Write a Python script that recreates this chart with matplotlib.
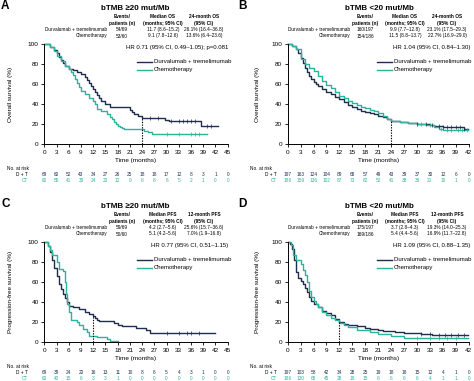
import numpy as np
import matplotlib.pyplot as plt
from matplotlib.transforms import blended_transform_factory

plt.rcParams['font.family'] = ['Liberation Sans', 'DejaVu Sans']

NAVY = '#1f2d4e'
TEAL = '#2bb39c'

# ---- Panel A: OS, bTMB >=20 ----
a_dt_t = [0, 1.5, 2.5, 3, 3.5, 4, 4.5, 5, 6, 7, 8, 9, 10, 10.5, 11, 11.5, 12, 12.5, 13, 13.5,
          14, 15, 16, 21, 21.5, 22, 23, 24, 29.5, 30.5, 38.5, 42.5]
a_dt_s = [100, 97, 94, 91, 87, 84, 81, 78, 75, 74, 72, 70, 67, 64, 61, 58, 55, 52, 49, 46,
          43, 40, 37, 34, 32, 30, 28, 26, 24.5, 23, 18.5, 18.5]
a_ct_t = [0, 1.5, 2.5, 3, 4, 5, 6, 6.5, 7, 7.5, 8, 8.5, 9, 10, 11, 12, 12.5, 13, 14, 15.5,
          16, 16.5, 17, 17.5, 18, 18.5, 19, 19.5, 24.5, 25.5, 26.5, 40]
a_ct_s = [100, 97, 93, 88, 83, 78, 75, 72, 69, 65, 61, 57, 53, 50, 46, 43, 40, 35, 33, 30,
          27, 25, 22, 20, 18.5, 17, 16, 15, 13, 12, 10, 10]
a_dt_cens = [26, 28, 31, 33, 34, 35, 36, 37, 40, 41]
a_ct_cens = [30, 33, 36, 37, 38]
a_risk_dt = [69, 60, 52, 43, 34, 27, 26, 25, 18, 18, 17, 12, 8, 3, 1, 0]
a_risk_ct = [60, 55, 41, 30, 24, 20, 12, 9, 8, 8, 6, 5, 2, 1, 0, 0]
a_rows = [['54/69', '11.7 (8.6–15.2)', '26.1% (16.4–36.8)'],
          ['53/60', '9.1 (7.8–12.6)', '13.6% (6.4–23.6)']]
a_hr = 'HR 0.71 (95% CI, 0.49–1.05); p=0.081'

# ---- Panel B: OS, bTMB <20 ----
b_dt_t = [0, 1, 2, 2.5, 3, 3.5, 4, 4.5, 5, 5.5, 6, 6.5, 7, 8, 9, 10, 11, 12, 13, 14,
          15, 16, 17, 18, 19, 20, 21, 22, 23, 24, 26, 28, 30, 32, 33, 34, 36, 39, 41, 41.8]
b_dt_s = [100, 98, 95, 91, 86, 81, 76, 72, 68, 65, 62, 60, 58, 55, 52, 50, 47, 45, 42, 39,
          37, 35, 33.5, 32, 31, 30, 28, 27, 25, 23.5, 22, 21.5, 20.5, 20, 19, 18, 17.5, 17, 15.5, 15.5]
b_ct_t = [0, 1, 2, 3, 4, 5, 6, 7, 8, 9, 10, 11, 12, 13, 14, 15, 16, 17, 18, 19,
          20, 21, 22, 23, 24, 26, 28, 30, 32, 34, 35, 36, 40, 41.8]
b_ct_s = [100, 98, 95, 85, 80, 76, 73, 68, 63, 59, 56, 52, 48, 46, 43, 41, 39, 37.5, 36, 34,
          33, 31, 28, 25.5, 23.5, 22, 21, 20.5, 19.5, 17.5, 15, 14.5, 14.5, 14.5]
b_dt_cens = [30, 32, 33.5, 35, 36, 37, 38, 39, 40, 41]
b_ct_cens = [31, 33, 35.5, 37, 38, 39.5, 40.5, 41.5]
b_risk_dt = [197, 163, 124, 104, 89, 68, 57, 49, 43, 39, 37, 30, 12, 6, 0]
b_risk_ct = [186, 159, 136, 102, 87, 73, 62, 52, 41, 38, 36, 21, 10, 1, 0]
b_rows = [['160/197', '9.9 (7.7–12.8)', '23.1% (17.5–29.3)'],
          ['154/186', '11.5 (8.8–13.7)', '22.7% (16.9–29.0)']]
b_hr = 'HR 1.04 (95% CI, 0.84–1.30)'

# ---- Panel C: PFS, bTMB >=20 ----
c_dt_t = [0, 1, 1.5, 2, 2.5, 3, 3.5, 4, 4.5, 5, 5.5, 6, 7, 8.5, 10, 11, 12, 12.5, 13, 13.5,
          17, 18, 19, 22.5, 25, 26, 42]
c_dt_s = [100, 96, 90, 82, 74, 66, 58, 53, 48, 44, 40, 36, 35, 33, 30, 28, 26, 24, 22, 21,
          19, 17.5, 16, 14.5, 12.5, 9.5, 9.5]
c_ct_t = [0, 1, 1.5, 2, 3, 3.5, 4.5, 5, 5.3, 5.6, 6, 6.5, 8, 8.5, 9.5, 10.5, 11, 13, 15.5, 16, 18.2]
c_ct_s = [100, 96, 92, 87, 80, 73, 71, 60, 48, 38, 30, 22, 20, 17, 13.5, 10, 6.5, 5, 3.3, 1.7, 1.7]
c_dt_cens = [30, 33, 35, 36, 38]
c_ct_cens = []
c_risk_dt = [69, 39, 24, 20, 16, 13, 11, 10, 8, 6, 5, 4, 3, 1, 0, 0]
c_risk_ct = [60, 40, 15, 6, 3, 3, 1, 0, 0, 0, 0, 0, 0, 0, 0, 0]
c_rows = [['59/69', '4.2 (2.7–5.6)', '25.6% (15.7–36.6)'],
          ['50/60', '5.1 (4.2–5.6)', '7.0% (1.9–16.8)']]
c_hr = 'HR 0.77 (95% CI, 0.51–1.15)'

# ---- Panel D: PFS, bTMB <20 ----
d_dt_t = [0, 0.5, 1, 1.5, 2, 2.5, 3, 3.5, 4, 4.5, 5, 5.5, 6, 7, 8, 9, 10, 11, 12, 13,
          14, 15, 16, 18, 19, 21, 22, 25, 27, 31, 33.5, 41.8]
d_dt_s = [100, 98, 93, 82, 70, 64, 61, 58, 54, 50, 45, 41, 38, 35, 31, 29, 27, 23, 20.5, 18.5,
          17.5, 17, 16, 14.5, 13, 12, 11, 10.5, 9, 8.3, 7.3, 7.3]
d_ct_t = [0, 0.8, 1.2, 2, 3, 3.5, 4, 4.5, 5, 5.5, 6, 6.5, 7, 8, 9, 10, 11, 12, 13, 14,
          16, 19, 21, 24, 27, 41.8]
d_ct_s = [100, 97, 87, 82, 78, 72, 67, 60, 51, 45, 41, 38, 35, 30, 27, 24.5, 22, 19, 17, 15,
          12.5, 10, 8, 6, 4.3, 4.3]
d_dt_cens = [31, 33, 35, 36.5, 38, 39.5, 41]
d_ct_cens = [30, 33, 35, 37, 39]
d_risk_dt = [197, 103, 58, 42, 34, 28, 25, 19, 18, 18, 15, 12, 4, 1, 0]
d_risk_ct = [186, 130, 68, 45, 28, 18, 15, 8, 6, 6, 6, 4, 1, 1, 0]
d_rows = [['175/197', '3.7 (2.8–4.3)', '19.3% (14.0–25.3)'],
          ['169/186', '5.4 (4.4–5.6)', '16.9% (11.7–22.8)']]
d_hr = 'HR 1.09 (95% CI, 0.88–1.35)'

arms = ['Durvalumab + tremelimumab', 'Chemotherapy']
os_hdr = ['Events/\npatients (n)', 'Median OS\n(months; 95% CI)', '24-month OS\n(95% CI)']
pfs_hdr = ['Events/\npatients (n)', 'Median PFS\n(months; 95% CI)', '12-month PFS\n(95% CI)']

W, H = 474, 381
fig = plt.figure(figsize=(W / 100, H / 100), dpi=100)


def fx(x):
    return x / W


def fy(y):
    return 1 - y / H


def step_at(t, s, x):
    i = np.searchsorted(np.array(t), np.array(x), side='right') - 1
    return np.array(s)[i]


def panel(letter, title, box, xmax, dt, ct, cens, risk, rows, hr, hdr, ylabel,
          cols, dy, landmark):
    left, top, right, bottom = box
    ax = fig.add_axes([fx(left), fy(bottom), fx(right - left), (bottom - top) / H])
    ax.plot(dt[0], dt[1], drawstyle='steps-post', color=NAVY, lw=1.0, clip_on=False)
    ax.plot(ct[0], ct[1], drawstyle='steps-post', color=TEAL, lw=1.0, clip_on=False)
    if cens[0]:
        ax.plot(cens[0], step_at(dt[0], dt[1], cens[0]), '|', color=NAVY, ms=2.5, mew=0.5)
    if cens[1]:
        ax.plot(cens[1], step_at(ct[0], ct[1], cens[1]), '|', color=TEAL, ms=2.5, mew=0.5)
    # landmark line
    ax.plot([landmark, landmark], [0, step_at(dt[0], dt[1], [landmark])[0]],
            ls=(0, (1.2, 1.2)), color='black', lw=0.8)
    ax.set_xlim(0, xmax)
    ax.set_ylim(0, 100)
    ax.set_xticks(np.arange(0, xmax + 1, 3))
    ax.set_yticks(np.arange(0, 101, 20))
    ax.tick_params(labelsize=4.6, length=2.5, width=0.6, pad=1.5)
    for sp in ['top', 'right']:
        ax.spines[sp].set_visible(False)
    for sp in ['left', 'bottom']:
        ax.spines[sp].set_linewidth(0.7)
    ax.set_xlabel('Time (months)', fontsize=4.6, labelpad=2)
    fig.text(fx(cols['ylab']), fy((top + bottom) / 2), ylabel, rotation=90, fontsize=4.6,
             ha='center', va='center')

    # letter, title
    fig.text(fx(cols['letter']), fy(6 + dy), letter, fontsize=8.5, fontweight='bold',
             ha='left', va='center')
    fig.text(fx(cols['title']), fy(8 + dy), title, fontsize=5.8, fontweight='bold',
             ha='center', va='center')

    # header table
    for x, txt in zip(cols['table'][1:], hdr):
        fig.text(fx(x), fy(20 + dy), txt, fontsize=3.4, fontweight='bold',
                 ha='center', va='center', linespacing=1.25)
    for r, (arm, vals) in enumerate(zip(arms, rows)):
        yy = fy(29.5 + 6.5 * r + dy)
        fig.text(fx(cols['table'][0]), yy, arm, fontsize=3.4, ha='right', va='center')
        for x, v in zip(cols['table'][1:], vals):
            fig.text(fx(x), yy, v, fontsize=3.4, ha='center', va='center')
    fig.text(fx(cols['hr']), fy(47 + dy), hr, fontsize=4.3, ha='right', va='center')

    # legend
    lx0, lx1 = cols['legend'], cols['legend'] + 15
    for k, (c, arm) in enumerate(zip([NAVY, TEAL], arms)):
        yy = fy(61.5 + 8.5 * k + dy)
        fig.lines.append(plt.Line2D([fx(lx0), fx(lx1)], [yy, yy], color=c, lw=1.0,
                                    transform=fig.transFigure))
        fig.text(fx(lx1 + 2), yy, arm, fontsize=4.3, ha='left', va='center')

    # number at risk
    trans = blended_transform_factory(ax.transData, fig.transFigure)
    fig.text(fx(cols['risk'][0]), fy(169 + dy), 'No. at risk', fontsize=3.4,
             ha='left', va='center')
    fig.text(fx(cols['risk'][1]), fy(175 + dy), 'D + T', fontsize=3.4, ha='right', va='center')
    fig.text(fx(cols['risk'][1]), fy(181 + dy), 'CT', fontsize=3.4, ha='right', va='center',
             color=TEAL)
    ticks = np.arange(0, xmax + 1, 3)
    for x, n1, n2 in zip(ticks, risk[0], risk[1]):
        ax.text(x, fy(175 + dy), str(n1), transform=trans, fontsize=3.4,
                ha='center', va='center', color=NAVY)
        ax.text(x, fy(181 + dy), str(n2), transform=trans, fontsize=3.4,
                ha='center', va='center', color=TEAL)
    return ax


left_cols = {'letter': 1, 'title': 135, 'table': [107, 122, 163, 204], 'hr': 228,
             'legend': 137, 'risk': [7, 28], 'ylab': 11}
right_cols = {'letter': 238, 'title': 379, 'table': [350, 365, 405, 447], 'hr': 470,
              'legend': 377, 'risk': [250, 277], 'ylab': 258}

panel('A', 'bTMB ≥20 mut/Mb', (44.3, 44.3, 227.7, 144.3), 45,
      (a_dt_t, a_dt_s), (a_ct_t, a_ct_s), (a_dt_cens, a_ct_cens), (a_risk_dt, a_risk_ct),
      a_rows, a_hr, os_hdr, 'Overall survival (%)', left_cols, 0, 24)
panel('B', 'bTMB <20 mut/Mb', (287.7, 44.3, 468.7, 144.3), 42,
      (b_dt_t, b_dt_s), (b_ct_t, b_ct_s), (b_dt_cens, b_ct_cens), (b_risk_dt, b_risk_ct),
      b_rows, b_hr, os_hdr, 'Overall survival (%)', right_cols, 0, 24)
panel('C', 'bTMB ≥20 mut/Mb', (44.3, 242.3, 227.7, 342.3), 45,
      (c_dt_t, c_dt_s), (c_ct_t, c_ct_s), (c_dt_cens, c_ct_cens), (c_risk_dt, c_risk_ct),
      c_rows, c_hr, pfs_hdr, 'Progression-free survival (%)', left_cols, 198, 12)
panel('D', 'bTMB <20 mut/Mb', (287.7, 242.3, 468.7, 342.3), 42,
      (d_dt_t, d_dt_s), (d_ct_t, d_ct_s), (d_dt_cens, d_ct_cens), (d_risk_dt, d_risk_ct),
      d_rows, d_hr, pfs_hdr, 'Progression-free survival (%)', right_cols, 198, 12)

plt.savefig('out.png', dpi=100)
